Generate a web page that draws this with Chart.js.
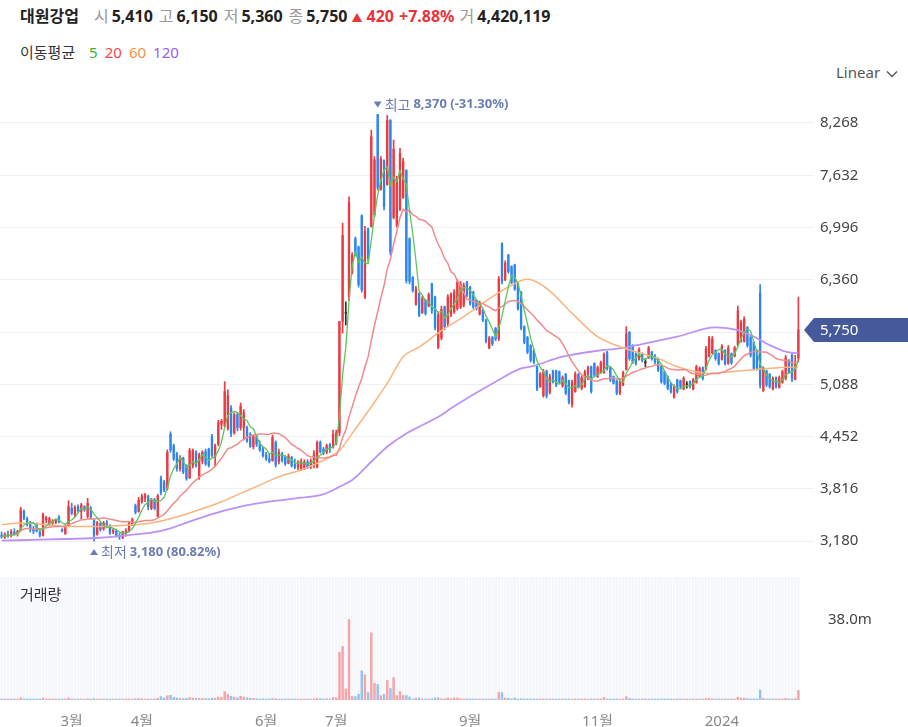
<!DOCTYPE html>
<html lang="ko">
<head>
<meta charset="utf-8">
<script src="https://cdn.jsdelivr.net/npm/chart.js@4"></script>
<style>
  body { margin: 0; width: 908px; height: 727px; overflow: hidden; position: relative; background: #fff;
         font-family: "Noto Sans", "Noto Sans CJK KR", sans-serif; color: #222; }
  canvas { position: absolute; left: 0; }
  #price { top: 88px; }
  #volume { top: 577px; }
  .txt { position: absolute; white-space: nowrap; z-index: 2; }
  #head { left: 20px; top: 5px; font-size: 16px; line-height: 22px; display: flex; align-items: baseline; }
  #head .name { font-weight: 700; margin-right: 15px; }
  #head .k { color: #999; margin-right: 3px; }
  #head .v { font-weight: 700; margin-right: 6px; }
  #head .arrow { color: #e9333c; font-size: 11px; margin: 0 4px 0 -2px; }
  #head .up { color: #e9333c; font-weight: 700; margin-right: 5px; }
  #maLegend { left: 20px; top: 41px; font-size: 15px; line-height: 22px; color: #333; }
  #maLegend span { margin-left: 7px; }
  #scaleSel { left: 836px; top: 61px; font-size: 15px; line-height: 22px; color: #555; }
  #scaleSel svg { margin-left: 6px; vertical-align: middle; }
  #volLabel { left: 20px; top: 583px; font-size: 15px; line-height: 22px; color: #333; }
</style>
</head>
<body>
<canvas id="price" width="908" height="490"></canvas>
<canvas id="volume" width="908" height="150"></canvas>

<div id="head" class="txt">
  <span class="name">대원강업</span>
  <span class="k">시</span><span class="v" id="hOpen"></span>
  <span class="k">고</span><span class="v" id="hHigh"></span>
  <span class="k">저</span><span class="v" id="hLow"></span>
  <span class="k">종</span><span class="v" id="hClose"></span>
  <span class="arrow">▲</span><span class="up" id="hChg"></span><span class="up" id="hPct"></span>
  <span class="k">거</span><span class="v" id="hVol"></span>
</div>
<div id="maLegend" class="txt">이동평균 <span style="color:#3bb33b;margin-left:10px">5</span><span style="color:#f2454d">20</span><span style="color:#f5903d">60</span><span style="color:#9b5cf6">120</span></div>
<div id="scaleSel" class="txt">Linear<svg width="12" height="8" viewBox="0 0 12 8"><polyline points="1,1.5 6,6.5 11,1.5" fill="none" stroke="#555" stroke-width="1.4"/></svg></div>
<div id="volLabel" class="txt">거래량</div>

<script>
// daily candles, oldest first
var opens = [
  3250,3230,3260,3245,3290,3270,3310,3540,3450,3390,
  3330,3390,3290,3250,3440,3390,3400,3410,3470,3320,
  3270,3370,3580,3500,3600,3540,3600,3480,3580,3430,
  3260,3390,3330,3400,3360,3290,3300,3250,3220,3280,
  3310,3390,3610,3540,3660,3700,3720,3580,3680,3480,
  3940,3900,3820,4480,4340,4240,4060,4190,4100,3950,
  4100,4260,3960,4150,4270,4300,4450,4200,4360,4600,
  4580,4550,4800,4500,4720,4560,4560,4560,4480,4330,
  4450,4360,4300,4230,4180,4160,4380,4150,4240,4200,
  4130,4200,4110,4080,4060,4070,4140,4080,4100,4080,
  4380,4300,4260,4350,4320,4370,4500,5850,5950,6150,
  6450,6860,6760,7140,6150,6980,7010,7150,8370,7460,
  7810,7520,8300,7120,7020,7220,7360,7690,6860,6390,
  6060,6190,5960,6110,6040,6310,6150,5540,5650,6030,
  5830,5930,5970,6010,6030,6050,6330,6270,6210,6110,
  5940,5990,5870,5530,5660,5770,5640,6800,6360,6660,
  6520,6540,6310,6210,5790,5660,5560,5500,5300,5060,
  4950,5250,4990,5250,5250,5240,5070,5210,5130,4840,
  5000,5210,5040,5060,5150,5300,5340,5180,5230,5230,
  5470,5290,5180,5130,4980,5080,5270,5720,5560,5460,
  5390,5460,5350,5410,5480,5440,5400,5300,5240,5180,
  5100,4930,5140,5130,5030,5080,5120,5030,5110,5190,
  5290,5270,5430,5470,5500,5460,5390,5500,5340,5460,
  5430,5570,5610,5610,5780,5660,5600,5500,6200,5010,
  5250,5210,5030,5170,5050,5110,5160,5380,5440,5150,
  5410
];
var highs = [
  3290,3280,3300,3320,3330,3310,3590,3560,3470,3420,
  3360,3400,3330,3520,3480,3470,3440,3440,3490,3330,
  3370,3670,3640,3610,3620,3640,3610,3700,3600,3440,
  3420,3410,3420,3430,3380,3330,3320,3270,3300,3330,
  3420,3460,3630,3710,3750,3760,3740,3700,3700,3750,
  3970,3920,4290,4510,4360,4260,4220,4200,4110,4310,
  4300,4280,4250,4280,4300,4310,4480,4360,4650,4660,
  5120,5020,4830,4740,4740,4860,4780,4580,4500,4470,
  4480,4400,4320,4260,4240,4470,4400,4300,4260,4220,
  4240,4210,4180,4160,4180,4170,4170,4180,4280,4400,
  4400,4320,4360,4370,4530,4530,5850,7050,6090,7370,
  6690,6880,6770,7150,7010,6990,8180,7860,8370,7860,
  7820,8360,8310,8060,7620,7960,7840,7700,6870,6400,
  6280,6200,6160,6120,6200,6320,6160,5960,6040,6040,
  6180,6200,6240,6360,6340,6320,6340,6280,6220,6120,
  6100,6000,5880,5670,5670,5780,6400,6810,6590,6670,
  6530,6550,6320,6220,5800,5670,5570,5510,5310,5230,
  5270,5260,5210,5260,5260,5250,5190,5220,5140,5140,
  5240,5220,5190,5260,5310,5310,5350,5310,5370,5470,
  5490,5300,5190,5140,5150,5250,5790,5730,5570,5470,
  5530,5470,5400,5550,5490,5450,5410,5310,5250,5190,
  5110,5080,5150,5140,5180,5120,5130,5160,5320,5300,
  5300,5550,5670,5670,5510,5470,5570,5510,5560,5470,
  5550,6040,5870,5910,5790,5670,5610,5510,6300,5300,
  5260,5220,5180,5180,5190,5260,5440,5390,5460,5440,
  6150
];
var lows = [
  3215,3210,3225,3230,3250,3240,3300,3440,3360,3290,
  3270,3290,3230,3240,3400,3370,3380,3390,3400,3290,
  3260,3360,3500,3470,3530,3450,3540,3460,3450,3180,
  3250,3300,3310,3340,3260,3270,3230,3200,3210,3240,
  3290,3370,3510,3530,3640,3660,3560,3560,3560,3470,
  3740,3780,3800,4260,4160,4030,4030,4000,3920,3940,
  4070,4080,3930,4120,4100,4080,4200,4090,4340,4540,
  4570,4530,4450,4480,4520,4530,4410,4380,4320,4300,
  4330,4270,4200,4160,4130,4150,4080,4120,4140,4100,
  4120,4080,4060,4050,4040,4050,4060,4060,4070,4070,
  4250,4230,4240,4260,4310,4350,4460,5710,5810,6110,
  6430,6650,6270,6210,6130,6580,7000,7130,7450,7450,
  7210,7510,6660,7100,7000,7200,7350,6320,6310,6210,
  6050,5910,5950,5930,6030,5950,5750,5520,5630,5750,
  5800,5910,5950,5990,6010,6030,6150,6050,6010,5990,
  5930,5850,5590,5520,5560,5620,5620,6310,6350,6440,
  6310,6230,5990,5750,5580,5460,5360,5340,5010,5050,
  4930,4920,4970,5100,5060,5100,5050,4960,4850,4810,
  4990,5040,5020,5050,5140,4980,5180,5170,5220,5220,
  5260,5120,5090,4960,4960,5070,5260,5380,5340,5320,
  5380,5360,5300,5400,5380,5340,5240,5100,5080,5020,
  4980,4920,4980,5040,5020,5040,5040,5020,5100,5180,
  5140,5260,5420,5460,5380,5320,5380,5320,5330,5330,
  5420,5560,5600,5600,5540,5420,5260,5260,5040,5000,
  5060,5040,5020,5040,5040,5100,5140,5220,5120,5140,
  5360
];
var closes = [
  3230,3265,3240,3290,3270,3300,3560,3460,3380,3320,
  3300,3300,3250,3500,3460,3450,3420,3430,3410,3300,
  3350,3600,3520,3590,3550,3620,3560,3640,3470,3250,
  3400,3320,3400,3360,3280,3310,3250,3230,3290,3300,
  3400,3440,3530,3680,3720,3740,3600,3680,3580,3730,
  3770,3800,4260,4290,4180,4060,4200,4020,3940,4280,
  4280,4100,4230,4260,4120,4100,4220,4340,4620,4640,
  5000,4950,4490,4720,4560,4820,4740,4400,4330,4450,
  4360,4290,4220,4180,4150,4440,4110,4260,4160,4120,
  4210,4100,4080,4140,4150,4140,4080,4150,4240,4380,
  4270,4250,4340,4300,4480,4500,5850,6900,5950,7300,
  6660,6670,6300,6240,6950,6620,8100,7820,7480,7830,
  7250,8300,6700,7950,7580,7900,7800,6350,6340,6230,
  6250,5930,6130,5950,6180,5980,5780,5930,6000,5790,
  6150,6180,6210,6330,6310,6290,6170,6070,6030,6010,
  6080,5870,5610,5650,5580,5640,6370,6340,6560,6460,
  6330,6250,6010,5770,5600,5480,5380,5360,5030,5210,
  5240,4950,5180,5120,5080,5120,5170,4980,4870,5110,
  5210,5060,5170,5240,5290,5000,5200,5290,5350,5450,
  5280,5140,5100,4980,5120,5230,5700,5400,5360,5340,
  5510,5380,5350,5530,5400,5360,5260,5120,5100,5040,
  5000,5060,5000,5060,5160,5080,5060,5140,5300,5280,
  5160,5520,5650,5640,5400,5340,5550,5340,5530,5350,
  5530,5980,5840,5880,5560,5440,5280,5280,5080,5280,
  5080,5060,5160,5060,5170,5240,5410,5240,5150,5330,
  5750
];
// volume, thousand shares
var volumeK = [
  350,300,280,400,300,320,1100,500,400,350,
  300,300,320,900,400,350,300,280,300,300,
  350,1000,500,450,400,450,350,600,400,700,
  450,350,350,300,350,300,300,350,300,300,
  400,400,600,700,600,500,450,400,350,800,
  1600,1000,2000,2200,1200,1000,800,700,800,1200,
  900,700,800,700,600,600,900,800,1400,1300,
  4000,2600,1800,1300,1000,1800,1400,1000,800,700,
  600,500,500,450,400,700,600,500,400,400,
  450,400,400,350,400,350,350,400,500,800,
  600,500,600,500,1200,1000,22600,25300,5200,38000,
  1600,1600,2700,13800,11900,3500,31700,7900,7300,2100,
  2700,9200,5400,10600,2100,4000,2100,2100,1400,500,
  1000,1000,500,500,500,600,1000,1000,600,500,
  1000,600,1000,1000,600,500,500,500,400,400,
  400,400,500,400,400,400,3600,3500,1000,800,
  500,1000,500,600,500,400,400,400,500,500,
  400,400,350,400,350,300,350,400,500,450,
  400,350,350,400,400,450,350,350,400,1200,
  450,400,350,400,350,400,1600,800,450,400,
  450,400,300,450,350,300,350,400,350,350,
  350,400,350,300,350,300,300,350,450,400,
  400,700,700,600,400,350,450,400,450,350,
  400,1300,900,800,600,500,500,450,4700,800,
  400,400,500,400,500,500,800,600,500,700,
  4420.119
];

// 60 and 120 day averages (they need history before the first candle)
var ma60Idx = [0,6,15,21,31,40,47,53,62,69,75,81,87,94,100,106,110,116,121,126,131,138,145,155,163,165,171,179,187,194,206,212,218,222,229,240,250];
var ma60Val = [3380,3400,3375,3356,3358,3375,3400,3450,3560,3658,3760,3861,3963,4044,4145,4280,4490,4815,5098,5423,5540,5740,5910,6180,6348,6365,6255,5951,5667,5545,5403,5302,5241,5220,5241,5281,5302];
var ma120Idx = [0,15,31,40,47,53,56,65,75,84,94,100,103,106,110,116,121,127,131,138,141,155,163,166,176,187,194,201,212,224,231,235,241,246,250];
var ma120Val = [3184,3200,3220,3253,3281,3334,3375,3496,3598,3659,3707,3740,3780,3841,3922,4145,4328,4490,4571,4713,4795,5119,5281,5302,5423,5496,5525,5577,5667,5780,5748,5687,5565,5484,5464];

var priceTicks = [3180,3816,4452,5088,5724,6360,6996,7632,8268];
var monthTicks = [[22,'3월'],[44,'4월'],[83,'6월'],[105,'7월'],[147,'9월'],[187,'11월'],[226,'2024']];

var UP = '#ec3a42', DOWN = '#2d86f0', FLAT = '#333333';
var VOL_UP = '#f6a4a7', VOL_DOWN = '#93c3f3';
var X_MAX = 254.9;
var FONT = '"Noto Sans", "Noto Sans CJK KR", sans-serif';

Chart.defaults.font.family = FONT;
Chart.defaults.font.size = 15;

function fmt(v) {
    return v.toLocaleString('en-US');
}

function movingAverage(values, n) {
    return values.map(function (v, i) {
        var from = Math.max(0, i - n + 1), sum = 0;
        for (var k = from; k <= i; k++) sum += values[k];
        return { x: i, y: sum / (i - from + 1) };
    });
}

function sparse(idx, vals) {
    return idx.map(function (x, k) { return { x: x, y: vals[k] }; });
}

var candleColor = opens.map(function (o, i) {
    return closes[i] > o ? UP : (closes[i] < o ? DOWN : FLAT);
});
var volColor = opens.map(function (o, i) {
    return closes[i] >= o ? VOL_UP : VOL_DOWN;
});

// header
var n = closes.length;
var last = closes[n - 1], prev = closes[n - 2];
document.getElementById('hOpen').textContent = fmt(opens[n - 1]);
document.getElementById('hHigh').textContent = fmt(highs[n - 1]);
document.getElementById('hLow').textContent = fmt(lows[n - 1]);
document.getElementById('hClose').textContent = fmt(last);
document.getElementById('hChg').textContent = fmt(last - prev);
document.getElementById('hPct').textContent = '+' + ((last - prev) / prev * 100).toFixed(2) + '%';
document.getElementById('hVol').textContent = fmt(Math.round(volumeK[n - 1] * 1000));

// max / min markers
var extremes = {
    id: 'extremes',
    afterDatasetsDraw: function (chart) {
        var ctx = chart.ctx, x = chart.scales.x, y = chart.scales.y;
        var hi = Math.max.apply(null, highs), lo = Math.min.apply(null, lows);
        var marks = [
            { down: true, name: '최고', v: hi, px: x.getPixelForValue(highs.indexOf(hi)), py: y.getPixelForValue(hi) - 10 },
            { down: false, name: '최저', v: lo, px: x.getPixelForValue(lows.indexOf(lo)), py: y.getPixelForValue(lo) + 11 }
        ];
        ctx.save();
        ctx.fillStyle = '#6a7db6';
        ctx.textBaseline = 'middle';
        marks.forEach(function (m) {
            ctx.beginPath();
            if (m.down) {
                ctx.moveTo(m.px - 4, m.py - 3); ctx.lineTo(m.px + 4, m.py - 3); ctx.lineTo(m.px, m.py + 3);
            } else {
                ctx.moveTo(m.px - 4, m.py + 3); ctx.lineTo(m.px + 4, m.py + 3); ctx.lineTo(m.px, m.py - 3);
            }
            ctx.closePath();
            ctx.fill();
            var tx = m.px + 7;
            ctx.font = '14px "Noto Sans CJK KR"';
            ctx.fillText(m.name, tx, m.py);
            tx += ctx.measureText(m.name).width + 3;
            ctx.font = '700 13px ' + FONT;
            var pct = (last - m.v) / m.v * 100;
            ctx.fillText(fmt(m.v) + ' (' + pct.toFixed(2) + '%)', tx, m.py);
        });
        ctx.restore();
    }
};

// last price tag on the right axis
var lastTag = {
    id: 'lastTag',
    afterDraw: function (chart) {
        var ctx = chart.ctx, area = chart.chartArea;
        var py = Math.round(chart.scales.y.getPixelForValue(last));
        ctx.save();
        ctx.fillStyle = '#46599a';
        ctx.beginPath();
        ctx.moveTo(area.right - 10, py);
        ctx.lineTo(area.right, py - 12);
        ctx.lineTo(chart.width, py - 12);
        ctx.lineTo(chart.width, py + 12);
        ctx.lineTo(area.right, py + 12);
        ctx.closePath();
        ctx.fill();
        ctx.fillStyle = '#fff';
        ctx.font = '15px ' + FONT;
        ctx.textBaseline = 'middle';
        ctx.fillText(fmt(last), area.right + 6, py + 1);
        ctx.restore();
    }
};

// faint column background in the volume pane
var stripes = {
    id: 'stripes',
    beforeDatasetsDraw: function (chart) {
        var ctx = chart.ctx, area = chart.chartArea, x = chart.scales.x;
        var w = x.getPixelForValue(1) - x.getPixelForValue(0);
        ctx.save();
        ctx.fillStyle = '#f5f7fb';
        closes.forEach(function (c, i) {
            var px = x.getPixelForValue(i);
            ctx.fillRect(px - w / 2 + 0.3, area.top, w - 0.6, area.bottom - area.top);
        });
        ctx.restore();
    }
};

var PriceChart = new Chart(document.getElementById('price'), {
    type: 'bar',
    data: {
        datasets: [
            { type: 'line', data: movingAverage(closes, 5), borderColor: '#5cc65c', borderWidth: 1.3, pointRadius: 0, order: 0 },
            { type: 'line', data: movingAverage(closes, 20), borderColor: '#f38a8a', borderWidth: 1.5, pointRadius: 0, order: 0 },
            { type: 'line', data: sparse(ma60Idx, ma60Val), borderColor: '#f9b47e', borderWidth: 1.5, pointRadius: 0, cubicInterpolationMode: 'monotone', order: 0 },
            { type: 'line', data: sparse(ma120Idx, ma120Val), borderColor: '#bd92f7', borderWidth: 1.8, pointRadius: 0, cubicInterpolationMode: 'monotone', order: 0 },
            {
                data: lows.map(function (l, i) { return { x: i, y: [l, highs[i]] }; }),
                backgroundColor: candleColor, barThickness: 1, grouped: false, order: 2
            },
            {
                data: opens.map(function (o, i) { return { x: i, y: [o, closes[i]] }; }),
                backgroundColor: candleColor, barThickness: 1.7, minBarLength: 1, grouped: false, order: 1
            }
        ]
    },
    options: {
        responsive: false,
        animation: false,
        events: [],
        layout: { padding: 0 },
        plugins: { legend: { display: false }, tooltip: { enabled: false } },
        scales: {
            x: { type: 'linear', display: false, min: -0.5, max: X_MAX, offset: false },
            y: {
                position: 'right',
                min: 2730,
                max: 8694,
                afterBuildTicks: function (s) { s.ticks = priceTicks.map(function (v) { return { value: v }; }); },
                afterFit: function (s) { s.width = 94; s.paddingTop = 0; s.paddingBottom = 0; },
                ticks: { padding: 6, color: '#444', callback: function (v) { return fmt(v); } },
                grid: { color: '#eff0f4', drawTicks: false, tickLength: 0 },
                border: { display: false }
            }
        }
    },
    plugins: [extremes, lastTag]
});

var VolumeChart = new Chart(document.getElementById('volume'), {
    type: 'bar',
    data: {
        datasets: [{
            data: volumeK.map(function (v, i) { return { x: i, y: v }; }),
            backgroundColor: volColor, barThickness: 1.8, minBarLength: 1, grouped: false
        }]
    },
    options: {
        responsive: false,
        animation: false,
        events: [],
        layout: { padding: 0 },
        plugins: { legend: { display: false }, tooltip: { enabled: false } },
        scales: {
            x: {
                type: 'linear', min: -0.5, max: X_MAX, offset: false,
                grid: { display: false }, border: { display: false },
                afterBuildTicks: function (s) { s.ticks = monthTicks.map(function (t) { return { value: t[0] }; }); },
                afterFit: function (s) { s.height = 27; s.paddingLeft = 0; s.paddingRight = 0; },
                ticks: {
                    autoSkip: false, maxRotation: 0, padding: 5, color: '#888',
                    callback: function (v) {
                        var t = monthTicks.find(function (m) { return m[0] === v; });
                        return t ? t[1] : '';
                    }
                }
            },
            y: {
                position: 'right', min: 0, max: 58060,
                grid: { display: false }, border: { display: false },
                afterBuildTicks: function (s) { s.ticks = [{ value: Math.max.apply(null, volumeK) }]; },
                afterFit: function (s) { s.width = 94; s.paddingTop = 0; s.paddingBottom = 0; },
                ticks: { padding: 6, color: '#444', callback: function (v) { return (v / 1000).toFixed(1) + 'm'; } }
            }
        }
    },
    plugins: [stripes]
});
</script>
</body>
</html>
